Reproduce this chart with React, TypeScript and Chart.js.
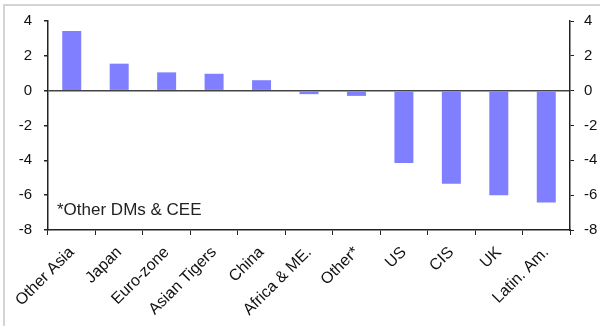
import React, { useEffect, useRef } from "react";
import { Chart, registerables } from "chart.js";

Chart.register(...registerables);

const categories = ["Other Asia", "Japan", "Euro-zone", "Asian Tigers", "China", "Africa & ME.", "Other*", "US", "CIS", "UK", "Latin. Am."];
const values = [3.42, 1.55, 1.05, 0.97, 0.6, -0.2, -0.3, -4.15, -5.35, -6.0, -6.42];
const yTicks = [4, 2, 0, -2, -4, -6, -8];
const note = "*Other DMs & CEE";

const FONT = "'Liberation Sans', Arial, sans-serif";

export default function App() {
  const ref = useRef<HTMLCanvasElement | null>(null);
  useEffect(() => {
    document.body.style.margin = "0";
    const canvas = ref.current;
    if (!canvas) return;
    const notePlugin = {
      id: "notePlugin",
      afterDraw(chart: any) {
        const { ctx, chartArea, scales } = chart;
        ctx.save();
        ctx.font = `17px ${FONT}`;
        ctx.fillStyle = "#222";
        ctx.textBaseline = "middle";
        ctx.textAlign = "left";
        ctx.fillText(note, chartArea.left + 9, scales.y.getPixelForValue(-6.85));
        ctx.restore();
      },
    };
    const chart = new Chart(canvas, {
      type: "bar",
      data: {
        labels: categories,
        datasets: [
          {
            data: values,
            backgroundColor: "#7f7fff",
            borderWidth: 0,
            barPercentage: 0.4,
            categoryPercentage: 1,
          },
        ],
      },
      options: {
        animation: false,
        responsive: false,
        maintainAspectRatio: false,
        layout: { padding: { top: 19, left: 4, right: 0, bottom: 0 } },
        plugins: { legend: { display: false }, tooltip: { enabled: false } },
        scales: {
          x: {
            grid: {
              offset: true,
              drawOnChartArea: false,
              drawTicks: true,
              tickLength: 5,
              tickColor: "#222",
            },
            border: { display: true, color: "#222", width: 1.5 },
            ticks: {
              maxRotation: 45,
              minRotation: 45,
              autoSkip: false,
              padding: 8,
              color: "#111",
              font: { family: FONT, size: 16 },
            },
            afterFit: (s: any) => {
              s.height = 96;
            },
          },
          y: {
            position: "left",
            min: -8,
            max: 4,
            afterBuildTicks: (s: any) => {
              s.ticks = yTicks.map((v) => ({ value: v }));
            },
            grid: {
              drawOnChartArea: true,
              color: (c: any) => (c.tick && c.tick.value === 0 ? "#444" : "rgba(0,0,0,0)"),
              lineWidth: 1.5,
              tickLength: 4,
              tickColor: "#222",
            },
            border: { display: true, color: "#222", width: 1.5 },
            ticks: {
              padding: 12,
              color: "#111",
              font: { family: FONT, size: 15 },
            },
            afterFit: (s: any) => {
              s.width = 44;
            },
          },
          y2: {
            position: "right",
            min: -8,
            max: 4,
            afterBuildTicks: (s: any) => {
              s.ticks = yTicks.map((v) => ({ value: v }));
            },
            grid: {
              drawOnChartArea: false,
              tickLength: 4,
              tickColor: "#222",
            },
            border: { display: true, color: "#222", width: 1.5 },
            ticks: {
              padding: 10,
              color: "#111",
              font: { family: FONT, size: 15 },
            },
            afterFit: (s: any) => {
              s.width = 30;
            },
          },
        },
      },
      plugins: [notePlugin],
    });
    return () => chart.destroy();
  }, []);
  return (
    <div style={{ position: "relative", width: 600, height: 326, background: "#fff" }}>
      <div
        style={{
          position: "absolute",
          left: 3,
          top: 4,
          right: -10,
          bottom: -10,
          borderTop: "2px solid #d4d4d4",
          borderLeft: "2px solid #d4d4d4",
          pointerEvents: "none",
        }}
      />
      <canvas ref={ref} width={600} height={326} style={{ display: "block" }} />
    </div>
  );
}
